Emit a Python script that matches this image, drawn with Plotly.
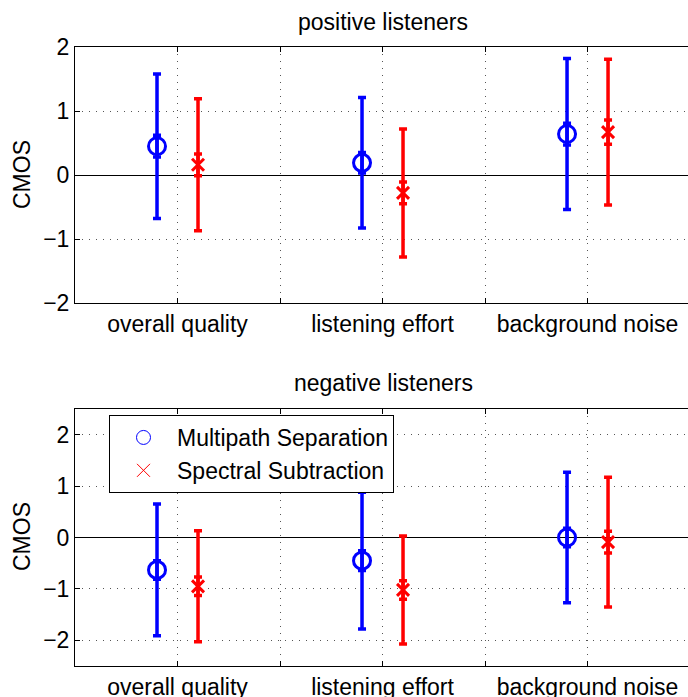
import plotly.graph_objects as go

# Listening-test results (CMOS): mean, 95% confidence half-width, standard-error half-width
categories = ["overall quality", "listening effort", "background noise"]
series_names = ["Multipath Separation", "Spectral Subtraction"]

pos_ms_mean = [0.45, 0.19, 0.64]
pos_ms_ci = [1.13, 1.02, 1.18]
pos_ms_se = [0.17, 0.16, 0.17]
pos_ss_mean = [0.16, -0.28, 0.67]
pos_ss_ci = [1.03, 1.00, 1.14]
pos_ss_se = [0.17, 0.17, 0.19]

neg_ms_mean = [-0.63, -0.45, 0.00]
neg_ms_ci = [1.28, 1.33, 1.27]
neg_ms_se = [0.18, 0.19, 0.18]
neg_ss_mean = [-0.95, -1.02, -0.09]
neg_ss_ci = [1.08, 1.05, 1.26]
neg_ss_se = [0.18, 0.18, 0.21]

y_ticks = [-2, -1, 0, 1, 2]
x_ticks = [1, 1.5, 2, 2.5, 3]
x_ticktext = [categories[0], "", categories[1], "", categories[2]]

BLUE = "#0000ff"
RED = "#ff0000"
FONT = "Liberation Sans, Arial, Helvetica, sans-serif"
FS = 23
W, H = 688, 697
ML = 75
PW = W - ML

fig = go.Figure()


def add_group(xa, ya, means, ci, se, color, symbol, size, offset):
    xs = [i + 1 + offset for i in range(len(means))]
    # wide interval with the marker
    fig.add_trace(go.Scatter(
        x=xs, y=means, mode="markers", xaxis=xa, yaxis=ya, showlegend=False,
        marker=dict(symbol=symbol, size=size, color=color, line=dict(color=color, width=3)),
        error_y=dict(type="data", array=ci, visible=True, color=color, thickness=3.5, width=4),
    ))
    # narrow interval around the mean
    fig.add_trace(go.Scatter(
        x=xs, y=means, mode="markers", xaxis=xa, yaxis=ya, showlegend=False,
        marker=dict(size=1, color="rgba(0,0,0,0)"),
        error_y=dict(type="data", array=se, visible=True, color=color, thickness=3.5, width=4),
        hoverinfo="skip",
    ))


add_group("x", "y", pos_ms_mean, pos_ms_ci, pos_ms_se, BLUE, "circle-open", 17, -0.1)
add_group("x", "y", pos_ss_mean, pos_ss_ci, pos_ss_se, RED, "x-thin-open", 12, 0.1)
add_group("x2", "y2", neg_ms_mean, neg_ms_ci, neg_ms_se, BLUE, "circle-open", 17, -0.1)
add_group("x2", "y2", neg_ss_mean, neg_ss_ci, neg_ss_se, RED, "x-thin-open", 12, 0.1)

# legend entries (thin markers)
fig.add_trace(go.Scatter(x=[None], y=[None], mode="markers", name=series_names[0],
                         xaxis="x2", yaxis="y2",
                         marker=dict(symbol="circle-open", size=14, color=BLUE,
                                     line=dict(color=BLUE, width=1))))
fig.add_trace(go.Scatter(x=[None], y=[None], mode="markers", name=series_names[1],
                         xaxis="x2", yaxis="y2",
                         marker=dict(symbol="x-thin-open", size=13, color=RED,
                                     line=dict(color=RED, width=1))))

top_dom = [1 - 303 / H, 1 - 47 / H]
bot_dom = [1 - 666 / H, 1 - 409 / H]

xcommon = dict(
    range=[0.5, 3.49], tickmode="array", tickvals=x_ticks, ticktext=x_ticktext,
    showline=True, linecolor="black", linewidth=1, mirror="allticks",
    ticks="inside", ticklen=5, tickcolor="black",
    showgrid=True, gridcolor="#555555", gridwidth=1, griddash="1px,6px",
    zeroline=False, automargin=False,
    tickfont=dict(family=FONT, size=FS, color="black"), fixedrange=True,
)
ycommon = dict(
    tickmode="array", tickvals=y_ticks,
    showline=True, linecolor="black", linewidth=1, mirror=False,
    ticks="inside", ticklen=5, tickcolor="black",
    showgrid=True, gridcolor="#555555", gridwidth=1, griddash="1px,6px",
    zeroline=True, zerolinecolor="black", zerolinewidth=1, automargin=False,
    tickfont=dict(family=FONT, size=FS, color="black"), fixedrange=True,
)


def px_x(p):
    return (p - ML) / PW


def px_y(p):
    return 1 - p / H


def label(text, x, y, angle=0):
    return dict(text=text, x=px_x(x), y=px_y(y), xref="paper", yref="paper",
                xanchor="center", yanchor="middle", textangle=angle,
                showarrow=False, font=dict(family=FONT, size=FS, color="black"))


fig.update_layout(
    width=W, height=H,
    margin=dict(l=ML, r=0, t=0, b=0),
    paper_bgcolor="white", plot_bgcolor="white",
    font=dict(family=FONT, size=FS, color="black"),
    xaxis=dict(domain=[0, 1], anchor="y", **xcommon),
    yaxis=dict(domain=top_dom, anchor="x", range=[-2, 2], **ycommon),
    xaxis2=dict(domain=[0, 1], anchor="y2", **xcommon),
    yaxis2=dict(domain=bot_dom, anchor="x2", range=[-2.5, 2.5], **ycommon),
    showlegend=True,
    legend=dict(
        x=px_x(109), y=px_y(415), xref="paper", yref="paper",
        xanchor="left", yanchor="top",
        bgcolor="white", bordercolor="black", borderwidth=1,
        font=dict(family=FONT, size=FS, color="black"),
        itemwidth=57,
    ),
    annotations=[
        label("positive listeners", 383, 22),
        label("negative listeners", 383, 383),
        label("CMOS", 22, 175, -90),
        label("CMOS", 22, 537, -90),
    ],
)

fig.write_html("out.html")
